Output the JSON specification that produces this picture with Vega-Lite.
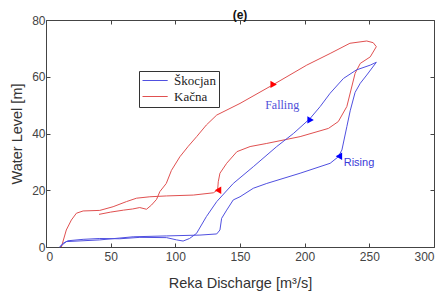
{
  "$schema": "https://vega.github.io/schema/vega-lite/v6.json",
  "width": 388,
  "height": 227,
  "autosize": {"type": "none"},
  "padding": {"left": 46, "top": 20, "right": 12, "bottom": 50},
  "background": "white",
  "title": {"text": "(e)", "fontSize": 12, "fontWeight": "bold", "font": "Liberation Sans", "color": "#111", "offset": -8},
  "config": {
    "view": {"stroke": "#444", "strokeWidth": 1},
    "axis": {
      "labelFont": "Liberation Sans", "labelFontSize": 12, "labelColor": "#444",
      "titleFont": "Liberation Sans", "titleFontSize": 14.5, "titleColor": "#333", "titleFontWeight": "normal",
      "gridColor": "#dddddd", "gridOpacity": 1, "domainColor": "#444", "tickColor": "#444"
    }
  },
  "datasets": {
    "lines": [
      {"series": "Kačna", "seq": 1, "q": 41, "h": 11.5},
      {"series": "Kačna", "seq": 2, "q": 50, "h": 12.3},
      {"series": "Kačna", "seq": 3, "q": 60, "h": 13},
      {"series": "Kačna", "seq": 4, "q": 67, "h": 13.4},
      {"series": "Kačna", "seq": 5, "q": 72.5, "h": 13.9},
      {"series": "Kačna", "seq": 6, "q": 77.7, "h": 13.3},
      {"series": "Kačna", "seq": 7, "q": 81.6, "h": 14.8},
      {"series": "Kačna", "seq": 8, "q": 85.5, "h": 16.8},
      {"series": "Kačna", "seq": 9, "q": 88, "h": 19.5},
      {"series": "Kačna", "seq": 10, "q": 93, "h": 22.4},
      {"series": "Kačna", "seq": 11, "q": 97, "h": 27},
      {"series": "Kačna", "seq": 12, "q": 103.5, "h": 31.8},
      {"series": "Kačna", "seq": 13, "q": 110, "h": 35.5},
      {"series": "Kačna", "seq": 14, "q": 116.5, "h": 38.9},
      {"series": "Kačna", "seq": 15, "q": 124, "h": 43},
      {"series": "Kačna", "seq": 16, "q": 132, "h": 46.5},
      {"series": "Kačna", "seq": 17, "q": 150, "h": 50.6},
      {"series": "Kačna", "seq": 18, "q": 176, "h": 57.3},
      {"series": "Kačna", "seq": 19, "q": 201.6, "h": 64.1},
      {"series": "Kačna", "seq": 20, "q": 219.7, "h": 68.2},
      {"series": "Kačna", "seq": 21, "q": 235, "h": 71.8},
      {"series": "Kačna", "seq": 22, "q": 248, "h": 72.6},
      {"series": "Kačna", "seq": 23, "q": 253, "h": 72},
      {"series": "Kačna", "seq": 24, "q": 255.4, "h": 70.6},
      {"series": "Kačna", "seq": 25, "q": 250.7, "h": 67},
      {"series": "Kačna", "seq": 26, "q": 243, "h": 64.7},
      {"series": "Kačna", "seq": 27, "q": 239, "h": 61.2},
      {"series": "Kačna", "seq": 28, "q": 232.6, "h": 49.5},
      {"series": "Kačna", "seq": 29, "q": 226, "h": 44.2},
      {"series": "Kačna", "seq": 30, "q": 218.4, "h": 41.8},
      {"series": "Kačna", "seq": 31, "q": 196.5, "h": 38.9},
      {"series": "Kačna", "seq": 32, "q": 170.7, "h": 36.5},
      {"series": "Kačna", "seq": 33, "q": 157.8, "h": 35.4},
      {"series": "Kačna", "seq": 34, "q": 147.6, "h": 33.6},
      {"series": "Kačna", "seq": 35, "q": 139.7, "h": 29.5},
      {"series": "Kačna", "seq": 36, "q": 134.5, "h": 26},
      {"series": "Kačna", "seq": 37, "q": 133.2, "h": 23},
      {"series": "Kačna", "seq": 38, "q": 132.7, "h": 20.1},
      {"series": "Kačna", "seq": 39, "q": 129.4, "h": 19.1},
      {"series": "Kačna", "seq": 40, "q": 113.9, "h": 18.3},
      {"series": "Kačna", "seq": 41, "q": 93.2, "h": 18},
      {"series": "Kačna", "seq": 42, "q": 80.3, "h": 17.7},
      {"series": "Kačna", "seq": 43, "q": 70, "h": 17.2},
      {"series": "Kačna", "seq": 44, "q": 62.2, "h": 16},
      {"series": "Kačna", "seq": 45, "q": 51.9, "h": 14.2},
      {"series": "Kačna", "seq": 46, "q": 41.6, "h": 12.9},
      {"series": "Kačna", "seq": 47, "q": 28.7, "h": 12.7},
      {"series": "Kačna", "seq": 48, "q": 23.5, "h": 11.9},
      {"series": "Kačna", "seq": 49, "q": 19.6, "h": 9.5},
      {"series": "Kačna", "seq": 50, "q": 15.7, "h": 6},
      {"series": "Kačna", "seq": 51, "q": 11.9, "h": 0},
      {"series": "Škocjan", "seq": 1, "q": 10.6, "h": 0},
      {"series": "Škocjan", "seq": 2, "q": 13.2, "h": 1.3},
      {"series": "Škocjan", "seq": 3, "q": 17, "h": 2.2},
      {"series": "Škocjan", "seq": 4, "q": 28.7, "h": 2.7},
      {"series": "Škocjan", "seq": 5, "q": 41.6, "h": 3},
      {"series": "Škocjan", "seq": 6, "q": 57, "h": 2.9},
      {"series": "Škocjan", "seq": 7, "q": 72.6, "h": 3.4},
      {"series": "Škocjan", "seq": 8, "q": 93.2, "h": 3.3},
      {"series": "Škocjan", "seq": 9, "q": 101, "h": 2.5},
      {"series": "Škocjan", "seq": 10, "q": 106, "h": 2.1},
      {"series": "Škocjan", "seq": 11, "q": 111, "h": 3},
      {"series": "Škocjan", "seq": 12, "q": 116.4, "h": 4.8},
      {"series": "Škocjan", "seq": 13, "q": 124, "h": 10.7},
      {"series": "Škocjan", "seq": 14, "q": 132, "h": 16},
      {"series": "Škocjan", "seq": 15, "q": 144.8, "h": 22.4},
      {"series": "Škocjan", "seq": 16, "q": 160.3, "h": 28.3},
      {"series": "Škocjan", "seq": 17, "q": 178.4, "h": 35.4},
      {"series": "Škocjan", "seq": 18, "q": 191.3, "h": 40},
      {"series": "Škocjan", "seq": 19, "q": 204.2, "h": 45.3},
      {"series": "Škocjan", "seq": 20, "q": 212, "h": 49.5},
      {"series": "Škocjan", "seq": 21, "q": 219.7, "h": 54.2},
      {"series": "Škocjan", "seq": 22, "q": 230, "h": 59.4},
      {"series": "Škocjan", "seq": 23, "q": 240, "h": 62.4},
      {"series": "Škocjan", "seq": 24, "q": 250.7, "h": 64.1},
      {"series": "Škocjan", "seq": 25, "q": 255.4, "h": 65.1},
      {"series": "Škocjan", "seq": 26, "q": 248, "h": 60.6},
      {"series": "Škocjan", "seq": 27, "q": 243, "h": 57.7},
      {"series": "Škocjan", "seq": 28, "q": 239, "h": 54.5},
      {"series": "Škocjan", "seq": 29, "q": 235.2, "h": 48},
      {"series": "Škocjan", "seq": 30, "q": 232.6, "h": 42.4},
      {"series": "Škocjan", "seq": 31, "q": 228.8, "h": 34.2},
      {"series": "Škocjan", "seq": 32, "q": 226, "h": 31.8},
      {"series": "Škocjan", "seq": 33, "q": 219.7, "h": 29.5},
      {"series": "Škocjan", "seq": 34, "q": 196.5, "h": 26},
      {"series": "Škocjan", "seq": 35, "q": 170.7, "h": 22.4},
      {"series": "Škocjan", "seq": 36, "q": 160.3, "h": 20.7},
      {"series": "Škocjan", "seq": 37, "q": 150, "h": 17.7},
      {"series": "Škocjan", "seq": 38, "q": 144.8, "h": 16.6},
      {"series": "Škocjan", "seq": 39, "q": 139.7, "h": 13},
      {"series": "Škocjan", "seq": 40, "q": 135.8, "h": 10.1},
      {"series": "Škocjan", "seq": 41, "q": 134.5, "h": 6},
      {"series": "Škocjan", "seq": 42, "q": 132, "h": 4.6},
      {"series": "Škocjan", "seq": 43, "q": 119, "h": 4.2},
      {"series": "Škocjan", "seq": 44, "q": 93, "h": 3.9},
      {"series": "Škocjan", "seq": 45, "q": 67.4, "h": 3.6},
      {"series": "Škocjan", "seq": 46, "q": 41.6, "h": 2.5},
      {"series": "Škocjan", "seq": 47, "q": 15.7, "h": 1.9},
      {"series": "Škocjan", "seq": 48, "q": 10.6, "h": 0}
    ],
    "markers": [
      {"q": 176, "h": 57.3, "shape": "triangle-right", "col": "#ff0000"},
      {"q": 133, "h": 20, "shape": "triangle-left", "col": "#ff0000"},
      {"q": 204.6, "h": 44.8, "shape": "triangle-right", "col": "#0000ff"},
      {"q": 226.5, "h": 32, "shape": "triangle-left", "col": "#0000ff"}
    ],
    "labels": [
      {"q": 182.6, "h": 50.2, "text": "Falling", "font": "serif"},
      {"q": 242, "h": 29.6, "text": "Rising", "font": "sans"}
    ]
  },
  "layer": [
    {
      "data": {"name": "lines"},
      "mark": {"type": "line", "strokeWidth": 1, "opacity": 0},
      "encoding": {
        "x": {"field": "q", "type": "quantitative", "scale": {"domain": [0, 300], "nice": false},
              "axis": {"orient": "top", "labels": false, "title": null, "grid": false, "domain": false, "tickSize": -4, "values": [0, 50, 100, 150, 200, 250, 300]}},
        "y": {"field": "h", "type": "quantitative", "scale": {"domain": [0, 80], "nice": false},
              "axis": {"orient": "right", "labels": false, "title": null, "grid": false, "domain": false, "tickSize": -4, "values": [0, 20, 40, 60, 80]}},
        "detail": {"field": "series"},
        "order": {"field": "seq"}
      }
    },
    {
      "data": {"name": "lines"},
      "mark": {"type": "line", "strokeWidth": 1},
      "encoding": {
        "x": {"field": "q", "type": "quantitative", "scale": {"domain": [0, 300], "nice": false},
              "axis": {"orient": "bottom", "title": "Reka Discharge [m³/s]", "values": [0, 50, 100, 150, 200, 250, 300], "tickSize": -4, "labelPadding": 8, "titlePadding": 14, "domain": false}},
        "y": {"field": "h", "type": "quantitative", "scale": {"domain": [0, 80], "nice": false},
              "axis": {"orient": "left", "title": "Water Level [m]", "values": [0, 20, 40, 60, 80], "tickSize": -4, "labelPadding": 5, "titlePadding": 7, "domain": false}},
        "color": {"field": "series", "type": "nominal",
                  "scale": {"domain": ["Škocjan", "Kačna"], "range": ["#5050e0", "#e05050"]},
                  "legend": {"title": null, "orient": "none", "legendX": 93, "legendY": 51,
                             "symbolType": "M-1,0H3.2", "symbolSize": 144, "symbolStrokeWidth": 1,
                             "labelFont": "Liberation Serif", "labelFontSize": 13, "labelColor": "#222",
                             "strokeColor": "#333", "fillColor": "white", "padding": 3, "rowPadding": 2,
                             "labelOffset": 19}},
        "order": {"field": "seq"}
      }
    },
    {
      "data": {"name": "markers"},
      "mark": {"type": "point", "filled": true, "size": 55, "opacity": 1},
      "encoding": {
        "x": {"field": "q", "type": "quantitative", "axis": null},
        "y": {"field": "h", "type": "quantitative", "axis": null},
        "shape": {"field": "shape", "type": "nominal", "scale": null},
        "fill": {"field": "col", "type": "nominal", "scale": null}
      }
    },
    {
      "data": {"name": "labels"},
      "transform": [{"filter": "datum.font == 'serif'"}],
      "mark": {"type": "text", "font": "Liberation Serif", "fontSize": 12, "color": "#5050d8", "align": "center", "baseline": "middle"},
      "encoding": {
        "x": {"field": "q", "type": "quantitative", "axis": null},
        "y": {"field": "h", "type": "quantitative", "axis": null},
        "text": {"field": "text"}
      }
    },
    {
      "data": {"name": "labels"},
      "transform": [{"filter": "datum.font == 'sans'"}],
      "mark": {"type": "text", "font": "Liberation Sans", "fontSize": 11, "color": "#3a3ad8", "align": "center", "baseline": "middle"},
      "encoding": {
        "x": {"field": "q", "type": "quantitative", "axis": null},
        "y": {"field": "h", "type": "quantitative", "axis": null},
        "text": {"field": "text"}
      }
    }
  ],
  "resolve": {"axis": {"x": "independent", "y": "independent"}}
}
